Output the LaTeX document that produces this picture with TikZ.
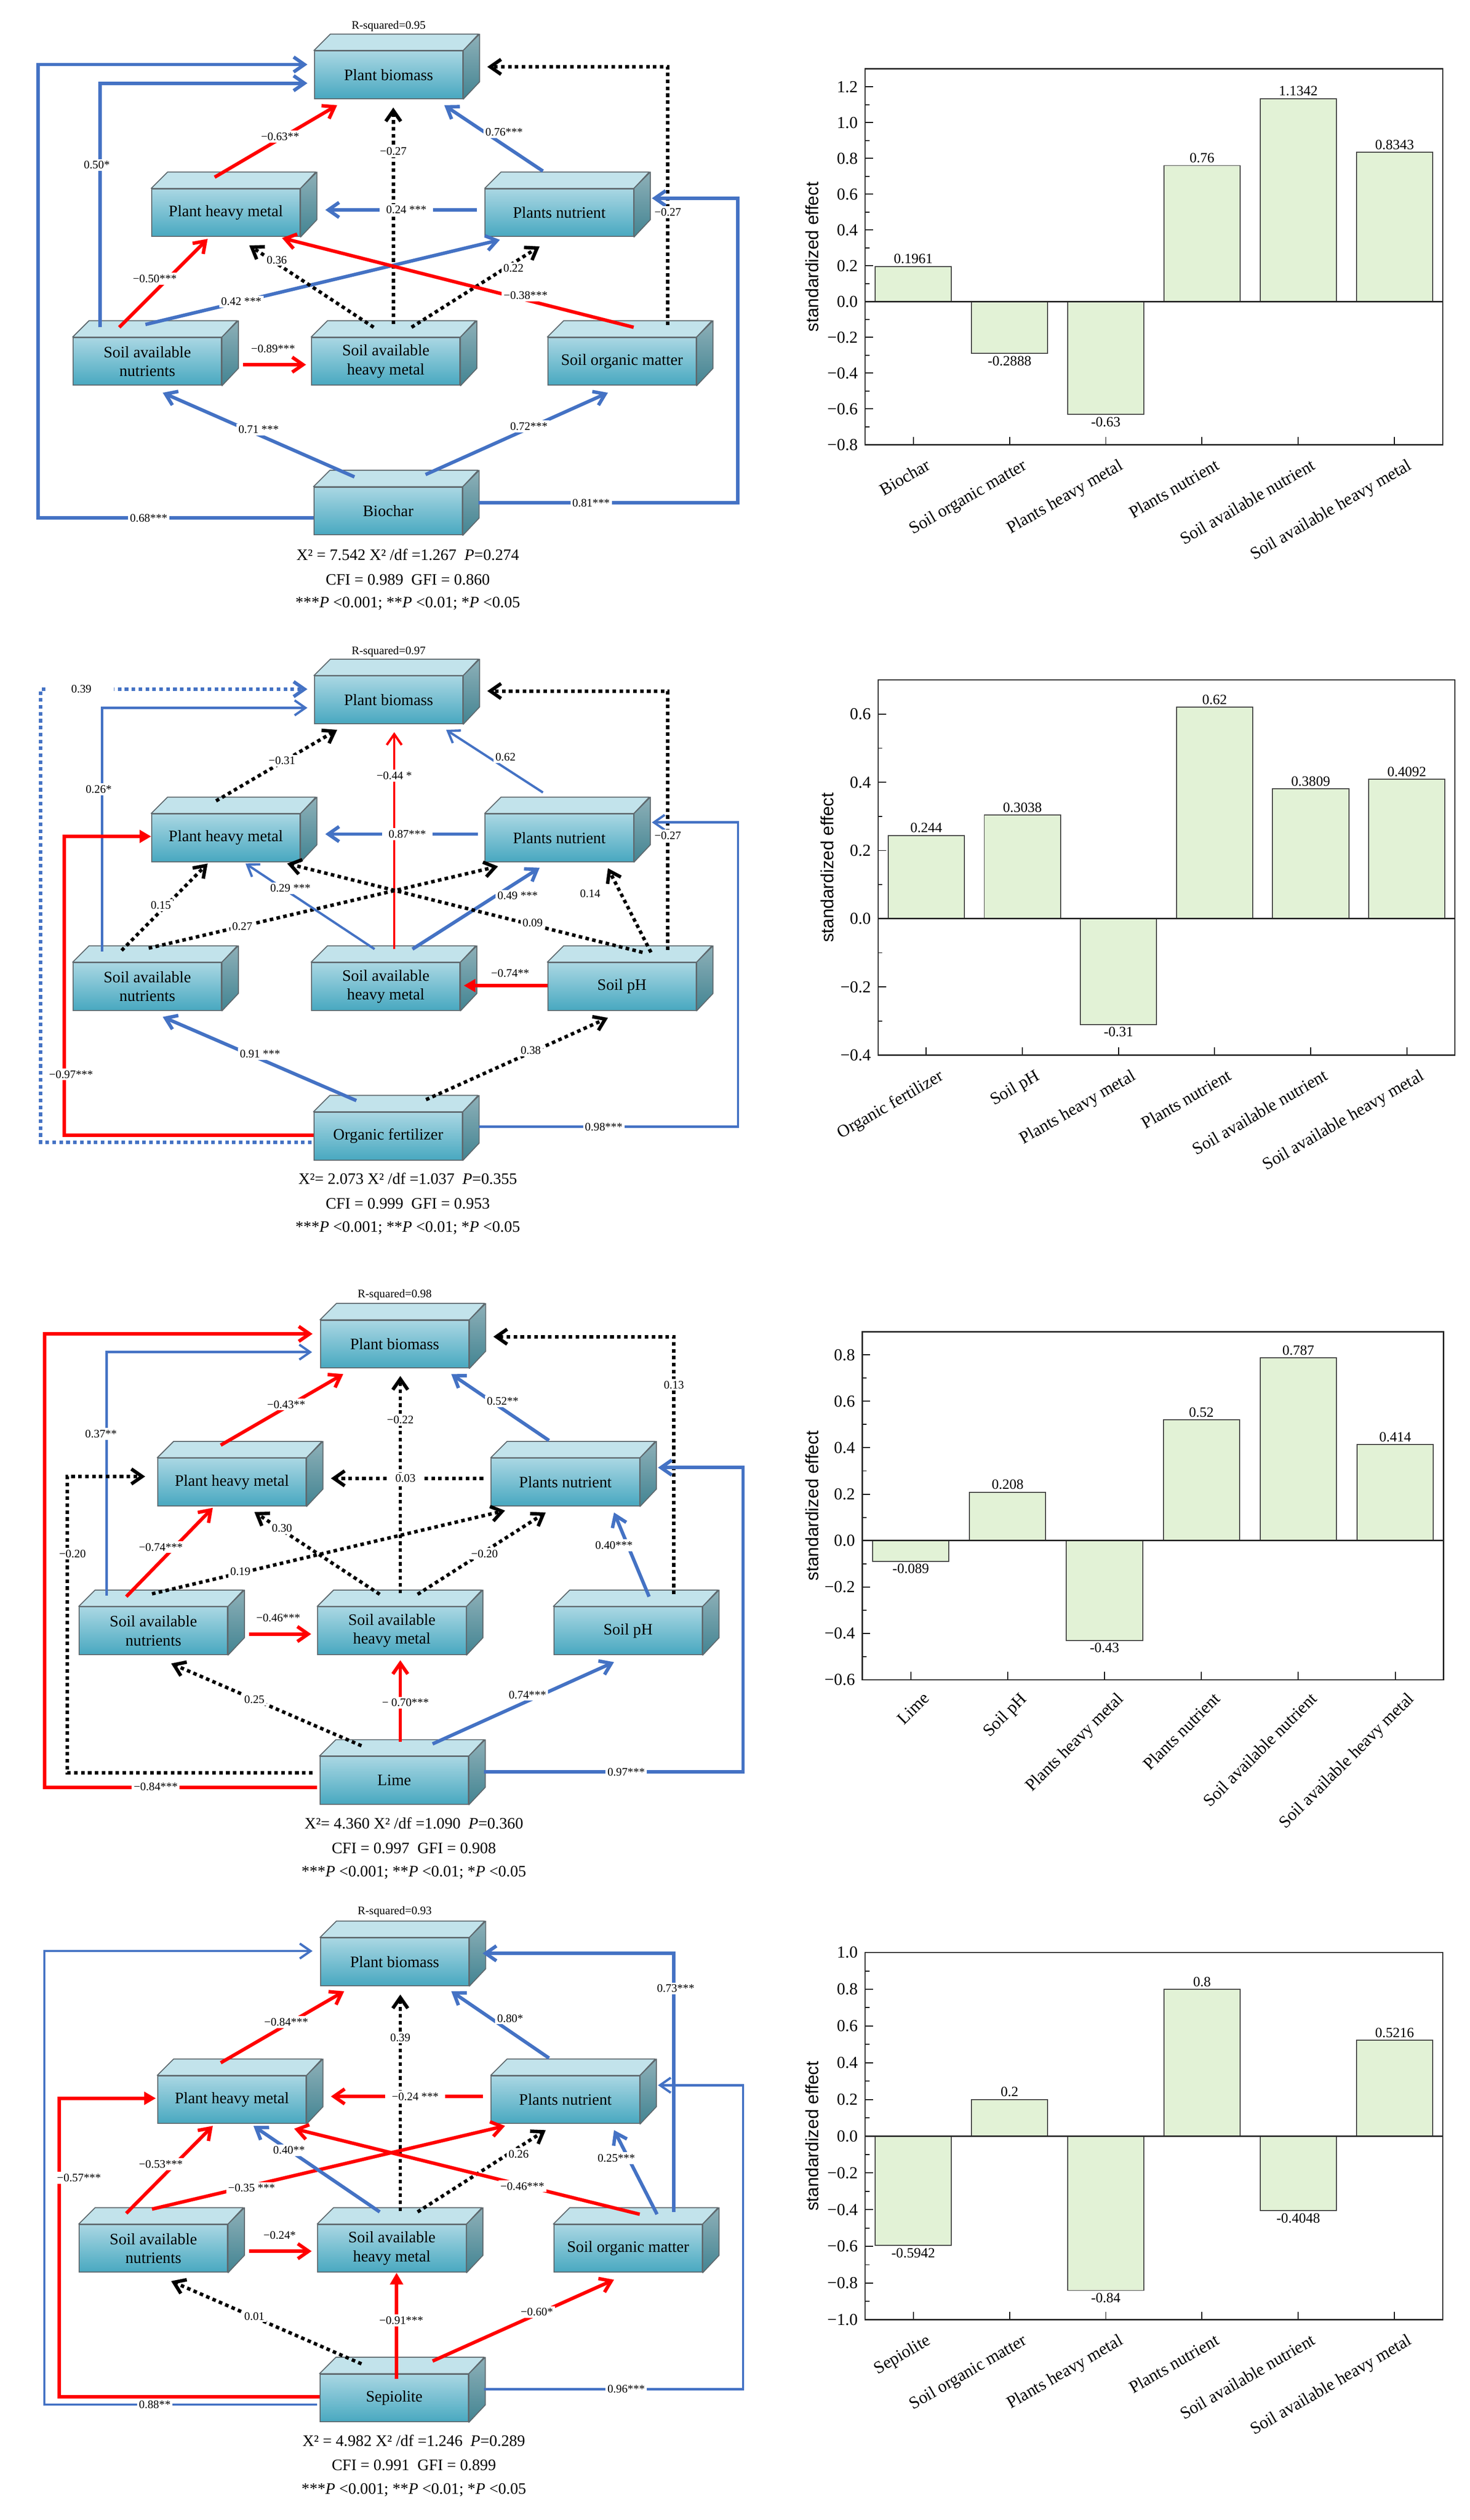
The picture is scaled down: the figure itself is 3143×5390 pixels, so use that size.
\documentclass[tikz,border=0pt]{standalone}
\usepackage{fontspec}
\setmainfont{Liberation Serif}
\newfontfamily\sansf{Liberation Sans}
\usetikzlibrary{arrows.meta,calc}
\definecolor{semblue}{RGB}{68,114,196}
\definecolor{semred}{RGB}{255,0,0}
\definecolor{frontT}{RGB}{170,215,227}
\definecolor{frontB}{RGB}{72,168,192}
\definecolor{topF}{RGB}{194,227,235}
\definecolor{sideT}{RGB}{142,176,184}
\definecolor{sideB}{RGB}{66,132,146}
\definecolor{edgeC}{RGB}{95,105,110}
\definecolor{barfill}{RGB}{226,242,214}
\tikzset{
 semfront/.style={draw=edgeC, line width=0.6pt, top color=frontT, bottom color=frontB, minimum width=3.17cm, minimum height=1.02cm, inner sep=0pt, align=center, font=\fontsize{9.7}{11.5}\selectfont},
 semtop/.style={draw=edgeC, line width=0.6pt, fill=topF, line join=round},
 semside/.style={draw=edgeC, line width=0.6pt, top color=sideT, bottom color=sideB, line join=round},
 thk/.style={line width=2.1pt},
 thn/.style={line width=1.4pt},
 bl/.style={draw=semblue},
 rd/.style={draw=semred},
 dt/.style={draw=black, dash pattern=on 2.2pt off 2pt},
 bdt/.style={draw=semblue, dash pattern=on 2.2pt off 2pt},
 barb/.style={-{Straight Barb[length=2.3mm,width=3.2mm]}},
 tri/.style={-{Triangle[length=2.5mm,width=2.7mm]}},
 lab/.style={fill=white, inner sep=1.2pt, font=\fontsize{7}{8}\selectfont},
 nlab/.style={inner sep=1pt, font=\fontsize{7}{8}\selectfont},
 legend/.style={font=\fontsize{9.7}{11}\selectfont, inner sep=0pt},
 axisl/.style={line width=0.6pt, draw=black},
 axisf/.style={line width=0.8pt, draw=black!85},
 zerol/.style={line width=1pt, draw=black!85},
 barst/.style={fill=barfill, draw=black!75, line width=0.6pt},
 ticklab/.style={anchor=east, inner sep=0pt, font=\fontsize{10.2}{12}\selectfont},
 vallab/.style={inner sep=1.5pt, font=\fontsize{8.6}{10}\selectfont},
 catlab/.style={inner sep=0pt, font=\fontsize{10.5}{12}\selectfont},
 ylab/.style={rotate=90, inner sep=0pt, font=\sansf\fontsize{10.8}{12}\selectfont},
}
\newcommand\sembox[4]{%
 \node[semfront] (#1) at (#2,#3) {#4};
 \path[semtop] (#1.north west) -- ++(35,-35) -- ++(317,0) -- (#1.north east) -- cycle;
 \path[semside] (#1.north east) -- ++(35,-35) -- ++(0,102) -- (#1.south east) -- cycle;
}
\begin{document}
\begin{tikzpicture}[x=0.01cm,y=-0.01cm]
\fill[white] (0,0) rectangle (3143,5390);
\useasboundingbox (0,0) rectangle (3143,5390);

%================ PANEL 1 =================
\begin{scope}
\sembox{aPB}{831}{160}{Plant biomass}
\sembox{aPHM}{483}{455}{Plant heavy metal}
\sembox{aPN}{1196}{455}{Plants nutrient}
\sembox{aSAN}{315}{773}{Soil available\\nutrients}
\sembox{aSAHM}{825}{773}{Soil available\\heavy metal}
\sembox{aSR}{1330}{773}{Soil organic matter}
\sembox{aT}{830}{1093}{Biochar}
\node[nlab] (aR) at (831,56) {R-squared=0.95};
\node[legend] (aL1) at (872,1186) {X² = 7.542 X² /df =1.267\enspace\textit{P}=0.274};
\node[legend] (aL2) at (872,1240) {CFI = 0.989\enspace GFI = 0.860};
\node[legend] (aL3) at (872,1291) {***\textit{P} <0.001; **\textit{P} <0.01; *\textit{P} <0.05};
\draw[thk,bl,barb] ($(aT.west)+(0,15)$) -- (81,1108) -- (81,138) -- ($(aPB.west)+(-14,-22)$);
\draw[thk,bl,barb] ($(aSAN)+(-101,-73)$) -- (214,178) -- ($(aPB.west)+(-14,18)$);
\draw[thk,rd,barb] ($(aPHM)+(-24,-76)$) -- ($(aPB)+(-110,65)$);
\draw[thk,dt,barb] ($(aSAHM)+(16,-80)$) -- ($(aPB)+(10,70)$);
\draw[thk,bl,barb] ($(aPN)+(-35,-89)$) -- ($(aPB)+(119,65)$);
\draw[thk,bl,barb] ($(aPN.west)+(-17,-6)$) -- ($(aPHM.east)+(53,-6)$);
\draw[thk,rd,barb] ($(aSAN)+(-60,-73)$) -- ($(aPHM)+(-39,56)$);
\draw[thk,bl,barb] ($(aSAN)+(-4,-79)$) -- ($(aPN)+(-127,58)$);
\draw[thk,dt,barb] ($(aSAHM)+(-26,-73)$) -- ($(aPHM)+(50,70)$);
\draw[thk,dt,barb] ($(aSAHM)+(55,-73)$) -- ($(aPN)+(-42,72)$);
\draw[thk,rd,barb] ($(aSR)+(25,-73)$) -- ($(aPHM)+(120,54)$);
\draw[thk,dt,barb] ($(aSR)+(98,-78)$) -- (1428,143) -- ($(aPB)+(211,-17)$);
\draw[thk,bl,barb] ($(aT)+(193,-18)$) -- (1578,1075) -- (1578,424) -- ($(aPN)+(198,-31)$);
\draw[thk,bl,barb] ($(aT)+(-72,-73)$) -- ($(aSAN)+(33,67)$);
\draw[thk,bl,barb] ($(aT)+(80,-78)$) -- ($(aSR)+(-30,67)$);
\draw[thk,rd,barb] ($(aSAN.east)+(45,7)$) -- ($(aSAHM.west)+(-11,7)$);
\node[lab] (a1) at (318,1108) {0.68***};
\node[lab] (a2) at (207,353) {0.50*};
\node[lab] (a3) at (599,292) {−0.63**};
\node[lab] (a4) at (841,324) {−0.27};
\node[lab] (a5) at (1078,283) {0.76***};
\node[lab, inner xsep=4pt] (a6) at (869,449) {0.24 ***};
\node[lab] (a7) at (331,596) {−0.50***};
\node[lab] (a8) at (516,645) {0.42 ***};
\node[lab] (a9) at (592,556) {0.36};
\node[lab] (a10) at (1098,574) {0.22};
\node[lab] (a11) at (1124,632) {−0.38***};
\node[lab] (a12) at (1428,454) {−0.27};
\node[lab] (a13) at (1264,1076) {0.81***};
\node[lab] (a14) at (553,919) {0.71 ***};
\node[lab] (a15) at (1131,912) {0.72***};
\node[nlab] (a16) at (584,746) {−0.89***};
\end{scope}

%================ PANEL 2 =================
\begin{scope}[shift={(0,1337)}]
\sembox{bPB}{831}{160}{Plant biomass}
\sembox{bPHM}{483}{455}{Plant heavy metal}
\sembox{bPN}{1196}{455}{Plants nutrient}
\sembox{bSAN}{315}{773}{Soil available\\nutrients}
\sembox{bSAHM}{825}{773}{Soil available\\heavy metal}
\sembox{bSR}{1330}{773}{Soil pH}
\sembox{bT}{830}{1093}{Organic fertilizer}
\node[nlab] (bR) at (831,57) {R-squared=0.97};
\node[legend] (bL1) at (872,1184) {X²= 2.073 X² /df =1.037\enspace\textit{P}=0.355};
\node[legend] (bL2) at (872,1237) {CFI = 0.999\enspace GFI = 0.953};
\node[legend] (bL3) at (872,1289) {***\textit{P} <0.001; **\textit{P} <0.01; *\textit{P} <0.05};
\draw[thk,bdt,barb] ($(bT.west)+(-4,13)$) -- (87,1106) -- (87,137) -- ($(bPB.west)+(-14,-23)$);
\draw[thn,bl,barb] ($(bSAN)+(-97,-75)$) -- (218,177) -- ($(bPB.west)+(-14,17)$);
\draw[thk,rd,tri] ($(bT.west)+(0,-2)$) -- (137,1091) -- (137,452) -- ($(bPHM.west)+(0,-3)$);
\draw[thk,dt,barb] ($(bPHM)+(-21,-79)$) -- ($(bPB)+(-110,64)$);
\draw[thn,rd,barb] ($(bSAHM)+(18,-80)$) -- ($(bPB)+(12,69)$);
\draw[thn,bl,barb] ($(bPN)+(-35,-97)$) -- ($(bPB)+(123,64)$);
\draw[thk,bl,barb] ($(bPN.west)+(-14,-8)$) -- ($(bPHM.east)+(53,-8)$);
\draw[thk,dt,barb] ($(bSAN)+(-55,-77)$) -- ($(bPHM)+(-39,55)$);
\draw[thk,dt,barb] ($(bSAN)+(3,-82)$) -- ($(bPN)+(-131,61)$);
\draw[thn,bl,barb] ($(bSAHM)+(-24,-80)$) -- ($(bPHM)+(42,55)$);
\draw[thk,bl,barb] ($(bSAHM)+(57,-80)$) -- ($(bPN)+(-42,64)$);
\draw[thk,dt,barb] ($(bSR)+(44,-73)$) -- ($(bPHM)+(131,55)$);
\draw[thk,dt,barb] ($(bSR)+(62,-73)$) -- ($(bPN)+(104,65)$);
\draw[thk,dt,barb] ($(bSR)+(98,-78)$) -- (1428,141) -- ($(bPB)+(211,-19)$);
\draw[thn,bl,barb] ($(bT)+(194,-20)$) -- (1578,1073) -- (1578,422) -- ($(bPN)+(198,-33)$);
\draw[thk,bl,barb] ($(bT)+(-68,-76)$) -- ($(bSAN)+(33,65)$);
\draw[thk,dt,barb] ($(bT)+(81,-78)$) -- ($(bSR)+(-30,67)$);
\draw[thk,rd,tri] ($(bSR.west)+(0,-2)$) -- ($(bSAHM.east)+(7,-2)$);
\node[lab, minimum width=1.4cm] (b1) at (174,137) {0.39};
\node[lab] (b2) at (211,351) {0.26*};
\node[lab] (b3) at (152,961) {−0.97***};
\node[lab] (b4) at (603,290) {−0.31};
\node[lab] (b5) at (843,322) {−0.44 *};
\node[lab] (b6) at (1081,282) {0.62};
\node[lab, inner xsep=4pt] (b7) at (871,447) {0.87***};
\node[lab] (b8) at (344,599) {0.15};
\node[lab] (b9) at (518,644) {0.27};
\node[lab] (b10) at (621,563) {0.29 ***};
\node[lab] (b11) at (1107,579) {0.49 ***};
\node[lab] (b12) at (1139,637) {0.09};
\node[lab] (b13) at (1262,574) {0.14};
\node[lab] (b14) at (1428,450) {−0.27};
\node[lab] (b15) at (1291,1073) {0.98***};
\node[lab] (b16) at (556,917) {0.91 ***};
\node[lab] (b17) at (1135,910) {0.38};
\node[nlab] (b18) at (1091,745) {−0.74**};
\end{scope}

%================ PANEL 3 =================
\begin{scope}[shift={(13,2715)}]
\sembox{cPB}{831}{160}{Plant biomass}
\sembox{cPHM}{483}{455}{Plant heavy metal}
\sembox{cPN}{1196}{455}{Plants nutrient}
\sembox{cSAN}{315}{773}{Soil available\\nutrients}
\sembox{cSAHM}{825}{773}{Soil available\\heavy metal}
\sembox{cSR}{1330}{773}{Soil pH}
\sembox{cT}{830}{1093}{Lime}
\node[nlab] (cR) at (831,54) {R-squared=0.98};
\node[legend] (cL1) at (872,1185) {X²= 4.360 X² /df =1.090\enspace\textit{P}=0.360};
\node[legend] (cL2) at (872,1238) {CFI = 0.997\enspace GFI = 0.908};
\node[legend] (cL3) at (872,1290) {***\textit{P} <0.001; **\textit{P} <0.01; *\textit{P} <0.05};
\draw[thk,rd,barb] ($(cT.west)+(-5,15)$) -- (82,1108) -- (82,138) -- ($(cPB.west)+(-16,-22)$);
\draw[thn,bl,barb] ($(cSAN)+(-100,-75)$) -- (215,177) -- ($(cPB.west)+(-17,17)$);
\draw[thk,dt,barb] ($(cT.west)+(-15,-16)$) -- (131,1077) -- (131,443) -- ($(cPHM.west)+(-26,-12)$);
\draw[thk,rd,barb] ($(cPHM)+(-24,-79)$) -- ($(cPB)+(-110,64)$);
\draw[thk,dt,barb] ($(cSAHM)+(18,-80)$) -- ($(cPB)+(12,68)$);
\draw[thk,bl,barb] ($(cPN)+(-35,-89)$) -- ($(cPB)+(121,64)$);
\draw[thk,dt,barb] ($(cPN.west)+(-16,-8)$) -- ($(cPHM.east)+(52,-8)$);
\draw[thk,rd,barb] ($(cSAN)+(-58,-73)$) -- ($(cPHM)+(-41,55)$);
\draw[thk,dt,barb] ($(cSAN)+(-3,-79)$) -- ($(cPN)+(-129,61)$);
\draw[thk,dt,barb] ($(cSAHM)+(-26,-78)$) -- ($(cPHM)+(48,64)$);
\draw[thk,dt,barb] ($(cSAHM)+(55,-78)$) -- ($(cPN)+(-42,65)$);
\draw[thk,bl,barb] ($(cSR)+(45,-73)$) -- ($(cPN)+(104,65)$);
\draw[thk,dt,barb] ($(cSR)+(98,-78)$) -- (1428,144) -- ($(cPB)+(211,-16)$);
\draw[thk,bl,barb] ($(cT)+(192,-18)$) -- (1576,1075) -- (1576,424) -- ($(cPN)+(198,-31)$);
\draw[thk,dt,barb] ($(cT)+(-70,-74)$) -- ($(cSAN)+(38,70)$);
\draw[thk,rd,barb] ($(cT)+(13,-83)$) -- ($(cSAHM)+(18,63)$);
\draw[thk,bl,barb] ($(cT)+(82,-78)$) -- ($(cSR)+(-30,67)$);
\draw[thk,rd,barb] ($(cSAN.east)+(45,7)$) -- ($(cSAHM.west)+(-13,7)$);
\node[lab] (c1) at (320,1107) {−0.84***};
\node[lab] (c2) at (203,352) {0.37**};
\node[lab] (c3) at (142,608) {−0.20};
\node[lab] (c4) at (599,289) {−0.43**};
\node[lab] (c5) at (843,322) {−0.22};
\node[lab] (c6) at (1062,282) {0.52**};
\node[lab, inner xsep=4pt] (c7) at (854,447) {0.03};
\node[lab] (c8) at (331,594) {−0.74***};
\node[lab] (c9) at (501,646) {0.19};
\node[lab] (c10) at (590,554) {0.30};
\node[lab] (c11) at (1023,608) {−0.20};
\node[lab] (c12) at (1300,590) {0.40***};
\node[lab] (c13) at (1428,247) {0.13};
\node[lab] (c14) at (1326,1075) {0.97***};
\node[lab] (c15) at (531,920) {0.25};
\node[lab] (c16) at (854,927) {− 0.70***};
\node[lab] (c17) at (1115,910) {0.74***};
\node[nlab] (c18) at (582,745) {−0.46***};
\end{scope}

%================ PANEL 4 =================
\begin{scope}[shift={(13,4036)}]
\sembox{dPB}{831}{160}{Plant biomass}
\sembox{dPHM}{483}{455}{Plant heavy metal}
\sembox{dPN}{1196}{455}{Plants nutrient}
\sembox{dSAN}{315}{773}{Soil available\\nutrients}
\sembox{dSAHM}{825}{773}{Soil available\\heavy metal}
\sembox{dSR}{1330}{773}{Soil organic matter}
\sembox{dT}{830}{1093}{Sepiolite}
\node[nlab] (dR) at (831,53) {R-squared=0.93};
\node[legend] (dL1) at (872,1184) {X² = 4.982 X² /df =1.246\enspace\textit{P}=0.289};
\node[legend] (dL2) at (872,1237) {CFI = 0.991\enspace GFI = 0.899};
\node[legend] (dL3) at (872,1290) {***\textit{P} <0.001; **\textit{P} <0.01; *\textit{P} <0.05};
\draw[thn,bl,barb] ($(dT.west)+(-5,14)$) -- (82,1107) -- (82,137) -- ($(dPB.west)+(-16,-23)$);
\draw[thk,rd,tri] ($(dT.west)+(0,-3)$) -- (114,1090) -- (114,452) -- ($(dPHM.west)+(-3,-3)$);
\draw[thk,rd,barb] ($(dPHM)+(-24,-79)$) -- ($(dPB)+(-108,63)$);
\draw[thk,dt,barb] ($(dSAHM)+(18,-80)$) -- ($(dPB)+(12,70)$);
\draw[thk,bl,barb] ($(dPN)+(-35,-89)$) -- ($(dPB)+(121,63)$);
\draw[thk,rd,barb] ($(dPN.west)+(-17,-7)$) -- ($(dPHM.east)+(52,-7)$);
\draw[thk,rd,barb] ($(dSAN)+(-58,-75)$) -- ($(dPHM)+(-41,56)$);
\draw[thk,rd,barb] ($(dSAN)+(-3,-84)$) -- ($(dPN)+(-129,56)$);
\draw[thk,bl,barb] ($(dSAHM)+(-26,-78)$) -- ($(dPHM)+(46,56)$);
\draw[thk,dt,barb] ($(dSAHM)+(55,-78)$) -- ($(dPN)+(-42,65)$);
\draw[thk,rd,barb] ($(dSR)+(25,-73)$) -- ($(dPHM)+(133,62)$);
\draw[thk,bl,barb] ($(dSR)+(62,-73)$) -- ($(dPN)+(104,65)$);
\draw[thk,bl,barb] ($(dSR)+(98,-78)$) -- (1428,142) -- ($(dPB)+(188,-18)$);
\draw[thn,bl,barb] ($(dT)+(192,-19)$) -- (1576,1074) -- (1576,424) -- ($(dPN)+(198,-31)$);
\draw[thk,dt,barb] ($(dT)+(-70,-73)$) -- ($(dSAN)+(38,70)$);
\draw[thk,rd,tri] ($(dT)+(5,-41)$) -- ($(dSAHM)+(10,52)$);
\draw[thk,rd,barb] ($(dT)+(82,-79)$) -- ($(dSR)+(-30,67)$);
\draw[thk,rd,barb] ($(dSAN.east)+(45,6)$) -- ($(dSAHM.west)+(-12,6)$);
\node[lab] (d1) at (318,1107) {0.88**};
\node[lab] (d2) at (156,622) {−0.57***};
\node[lab] (d3) at (599,289) {−0.84***};
\node[lab] (d4) at (843,322) {0.39};
\node[lab] (d5) at (1078,281) {0.80*};
\node[lab, inner xsep=4pt] (d6) at (875,448) {−0.24 ***};
\node[lab] (d7) at (331,593) {−0.53***};
\node[lab] (d8) at (525,644) {−0.35 ***};
\node[lab] (d9) at (605,563) {0.40**};
\node[lab] (d10) at (1096,571) {0.26};
\node[lab] (d11) at (1104,640) {−0.46***};
\node[lab] (d12) at (1305,580) {0.25***};
\node[lab] (d13) at (1432,217) {0.73***};
\node[lab] (d14) at (1326,1074) {0.96***};
\node[lab] (d15) at (531,918) {0.01};
\node[lab] (d16) at (845,927) {−0.91***};
\node[lab] (d17) at (1135,909) {−0.60*};
\node[nlab] (d18) at (585,745) {−0.24*};
\end{scope}

%================ BAR CHART 1 =================
\begin{scope}[shift={(1850,645)}, x=0.01cm, y=3.825cm]
 \foreach \v in {1.1,0.9,0.7,0.5,0.3,0.1,-0.1,-0.3,-0.5,-0.7}
   \draw[axisl] (0,\v) -- ++(0.09cm,0pt);
 \foreach \v/\t [count=\i] in {1.2/1.2,1/1.0,0.8/0.8,0.6/0.6,0.4/0.4,0.2/0.2,0/0.0,-0.2/−0.2,-0.4/−0.4,-0.6/−0.6,-0.8/−0.8}{
   \draw[axisl] (0,\v) -- ++(0.17cm,0pt);
   \node[ticklab] (ey\i) at (-15,\v) {\t};
 }
 \foreach \val/\lab/\anc [count=\i] in {0.1961/Biochar/south,-0.2888/Soil organic matter/north,-0.63/Plants heavy metal/north,0.76/Plants nutrient/south,1.1342/Soil available nutrient/south,0.8343/Soil available heavy metal/south}{
   \pgfmathsetmacro\xc{1235/6*(\i-0.5)}
   \draw[barst] (\xc-81.5,0) rectangle (\xc+81.5,\val);
   \node[vallab, anchor=\anc] (ev\i) at (\xc,\val) {\val};
   \draw[axisl] (\xc,-0.8) -- ++(0pt,0.17cm);
   \node[catlab, rotate=30, anchor=north east] (ec\i) at ([xshift=0.26cm,yshift=-0.28cm]\xc,-0.8) {\lab};
 }
 \draw[zerol] (0,0) -- (1235,0);
 \draw[axisf] (0,-0.8) rectangle (1235,1.3);
 \node[ylab] (eyl) at (-113,0.25) {standardized effect};
\end{scope}

%================ BAR CHART 2 =================
\begin{scope}[shift={(1878,1965)}, x=0.01cm, y=7.29cm]
 \foreach \v in {0.5,0.3,0.1,-0.1,-0.3}
   \draw[axisl] (0,\v) -- ++(0.09cm,0pt);
 \foreach \v/\t [count=\i] in {0.6/0.6,0.4/0.4,0.2/0.2,0/0.0,-0.2/−0.2,-0.4/−0.4}{
   \draw[axisl] (0,\v) -- ++(0.17cm,0pt);
   \node[ticklab] (fy\i) at (-15,\v) {\t};
 }
 \foreach \val/\lab/\anc [count=\i] in {0.244/Organic fertilizer/south,0.3038/Soil pH/south,-0.31/Plants heavy metal/north,0.62/Plants nutrient/south,0.3809/Soil available nutrient/south,0.4092/Soil available heavy metal/south}{
   \pgfmathsetmacro\xc{1233/6*(\i-0.5)}
   \draw[barst] (\xc-81.5,0) rectangle (\xc+81.5,\val);
   \node[vallab, anchor=\anc] (fv\i) at (\xc,\val) {\val};
   \draw[axisl] (\xc,-0.4) -- ++(0pt,0.17cm);
   \node[catlab, rotate=30, anchor=north east] (fc\i) at ([xshift=0.26cm,yshift=-0.28cm]\xc,-0.4) {\lab};
 }
 \draw[zerol] (0,0) -- (1233,0);
 \draw[axisf] (0,-0.4) rectangle (1233,0.7);
 \node[ylab] (fyl) at (-109,0.15) {standardized effect};
\end{scope}

%================ BAR CHART 3 =================
\begin{scope}[shift={(1844,3295)}, x=0.01cm, y=4.96cm]
 \foreach \v in {0.7,0.5,0.3,0.1,-0.1,-0.3,-0.5}
   \draw[axisl] (0,\v) -- ++(0.09cm,0pt);
 \foreach \v/\t [count=\i] in {0.8/0.8,0.6/0.6,0.4/0.4,0.2/0.2,0/0.0,-0.2/−0.2,-0.4/−0.4,-0.6/−0.6}{
   \draw[axisl] (0,\v) -- ++(0.17cm,0pt);
   \node[ticklab] (gy\i) at (-15,\v) {\t};
 }
 \foreach \val/\lab/\anc [count=\i] in {-0.089/Lime/north,0.208/Soil pH/south,-0.43/Plants heavy metal/north,0.52/Plants nutrient/south,0.787/Soil available nutrient/south,0.414/Soil available heavy metal/south}{
   \pgfmathsetmacro\xc{1243/6*(\i-0.5)}
   \draw[barst] (\xc-81.5,0) rectangle (\xc+81.5,\val);
   \node[vallab, anchor=\anc] (gv\i) at (\xc,\val) {\val};
   \draw[axisl] (\xc,-0.6) -- ++(0pt,0.17cm);
   \node[catlab, rotate=45, anchor=north east] (gc\i) at ([xshift=0.24cm,yshift=-0.24cm]\xc,-0.6) {\lab};
 }
 \draw[zerol] (0,0) -- (1243,0);
 \draw[axisf] (0,-0.6) rectangle (1243,0.9);
 \node[ylab] (gyl) at (-107,0.15) {standardized effect};
\end{scope}

%================ BAR CHART 4 =================
\begin{scope}[shift={(1850,4569)}, x=0.01cm, y=3.925cm]
 \foreach \v in {0.9,0.7,0.5,0.3,0.1,-0.1,-0.3,-0.5,-0.7,-0.9}
   \draw[axisl] (0,\v) -- ++(0.09cm,0pt);
 \foreach \v/\t [count=\i] in {1/1.0,0.8/0.8,0.6/0.6,0.4/0.4,0.2/0.2,0/0.0,-0.2/−0.2,-0.4/−0.4,-0.6/−0.6,-0.8/−0.8,-1/−1.0}{
   \draw[axisl] (0,\v) -- ++(0.17cm,0pt);
   \node[ticklab] (hy\i) at (-15,\v) {\t};
 }
 \foreach \val/\lab/\anc [count=\i] in {-0.5942/Sepiolite/north,0.2/Soil organic matter/south,-0.84/Plants heavy metal/north,0.8/Plants nutrient/south,-0.4048/Soil available nutrient/north,0.5216/Soil available heavy metal/south}{
   \pgfmathsetmacro\xc{1235/6*(\i-0.5)}
   \draw[barst] (\xc-81.5,0) rectangle (\xc+81.5,\val);
   \node[vallab, anchor=\anc] (hv\i) at (\xc,\val) {\val};
   \draw[axisl] (\xc,-1) -- ++(0pt,0.17cm);
   \node[catlab, rotate=30, anchor=north east] (hc\i) at ([xshift=0.26cm,yshift=-0.28cm]\xc,-1) {\lab};
 }
 \draw[zerol] (0,0) -- (1235,0);
 \draw[axisf] (0,-1) rectangle (1235,1);
 \node[ylab] (hyl) at (-113,0) {standardized effect};
\end{scope}
\end{tikzpicture}
\end{document}
